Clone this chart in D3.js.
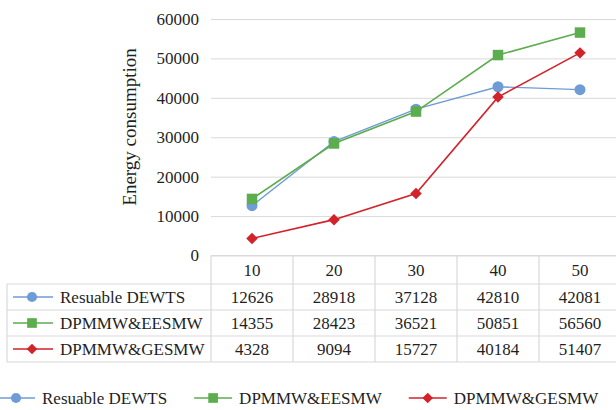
<!DOCTYPE html>
<html>
<head>
<meta charset="utf-8">
<script src="https://cdn.jsdelivr.net/npm/d3@7"></script>
<style>
  html, body { margin: 0; padding: 0; background: #fff; }
  svg { display: block; }
  svg text { font-family: "Liberation Serif", "DejaVu Serif", serif; fill: #1f1f1f; }
</style>
</head>
<body>
<svg id="chart" width="616" height="410"></svg>
<script>
// Chart data
const categories = ["10", "20", "30", "40", "50"];
const seriesNames = ["Resuable DEWTS", "DPMMW&EESMW", "DPMMW&GESMW"];
const reusableDewts = [12626, 28918, 37128, 42810, 42081];
const dpmmwEesmw = [14355, 28423, 36521, 50851, 56560];
const dpmmwGesmw = [4328, 9094, 15727, 40184, 51407];
const yTicks = [0, 10000, 20000, 30000, 40000, 50000, 60000];
const yTitle = "Energy consumption";

const seriesValues = [reusableDewts, dpmmwEesmw, dpmmwGesmw];
const colors = ["#6f9bd6", "#5cad4e", "#d2222a"];
const serifFont = "'Liberation Serif', 'DejaVu Serif', serif";

// marker shapes: circle, square, and a square turned 45 degrees
const markers = [
  { type: d3.symbolCircle, size: 95, rotate: 0 },
  { type: d3.symbolSquare, size: 110, rotate: 0 },
  { type: d3.symbolSquare, size: 66, rotate: 45 }
];

const svg = d3.select("#chart");
const gridColor = "#d9d9d9";

const plotLeft = 211, plotRight = 621, plotTop = 19, plotBottom = 255.5;

const x = d3.scaleBand().domain(categories).range([plotLeft, plotRight]);
const y = d3.scaleLinear().domain([0, 60000]).range([plotBottom, plotTop]);

// Y axis with horizontal gridlines
const yAxis = svg.append("g")
  .attr("transform", `translate(${plotLeft},0)`)
  .call(d3.axisLeft(y).tickValues(yTicks).tickFormat(d3.format("d"))
    .tickSize(-(plotRight - plotLeft)).tickPadding(12))
  .attr("font-family", serifFont)
  .attr("font-size", 17);
yAxis.select(".domain").remove();
yAxis.selectAll(".tick line").attr("stroke", gridColor).attr("stroke-width", 1);
yAxis.selectAll(".tick text").attr("fill", "#1f1f1f");

// Y axis title
svg.append("text")
  .attr("transform", "translate(136,127) rotate(-90)")
  .attr("text-anchor", "middle")
  .attr("font-size", 19)
  .text(yTitle);

// Series lines and markers
const cx = c => x(c) + x.bandwidth() / 2;
const line = d3.line()
  .x((d, i) => cx(categories[i]))
  .y(d => y(d));

function markerPath(s, scale) {
  return d3.symbol().type(markers[s].type).size(markers[s].size * scale)();
}

seriesValues.forEach((vals, s) => {
  const g = svg.append("g");
  g.append("path")
    .datum(vals)
    .attr("d", line)
    .attr("fill", "none")
    .attr("stroke", colors[s])
    .attr("stroke-width", s === 0 ? 1.4 : 1.6);
  g.selectAll("path.mk")
    .data(vals)
    .join("path")
    .attr("class", "mk")
    .attr("d", markerPath(s, 1))
    .attr("transform", (d, i) => `translate(${cx(categories[i])},${y(d)}) rotate(${markers[s].rotate})`)
    .attr("fill", colors[s]);
});

// Data table below the plot
const tableLeft = 7;
const headerTop = 255.5, headerBottom = 284;
const rowH = 26;
const rowTops = seriesNames.map((_, i) => headerBottom + i * rowH);
const tableBottom = headerBottom + seriesNames.length * rowH;

const tbl = svg.append("g").attr("stroke", gridColor).attr("stroke-width", 1.2);
tbl.append("line").attr("x1", plotLeft).attr("x2", plotRight).attr("y1", headerTop).attr("y2", headerTop);
[headerBottom, ...rowTops.slice(1), tableBottom].forEach(yy => {
  tbl.append("line").attr("x1", tableLeft).attr("x2", plotRight).attr("y1", yy).attr("y2", yy);
});
tbl.append("line").attr("x1", tableLeft).attr("x2", tableLeft).attr("y1", headerBottom).attr("y2", tableBottom);
categories.forEach(c => {
  tbl.append("line").attr("x1", x(c)).attr("x2", x(c)).attr("y1", headerTop).attr("y2", tableBottom);
});

// header labels
svg.selectAll("text.hdr")
  .data(categories)
  .join("text")
  .attr("class", "hdr")
  .attr("x", d => cx(d))
  .attr("y", (headerTop + headerBottom) / 2)
  .attr("dy", "0.35em")
  .attr("text-anchor", "middle")
  .attr("font-size", 17)
  .text(d => d);

function legendKey(g, s, mx, my, x1, x2) {
  g.append("line").attr("x1", x1).attr("x2", x2).attr("y1", my).attr("y2", my)
    .attr("stroke", colors[s]).attr("stroke-width", 1.6);
  g.append("path")
    .attr("d", markerPath(s, 0.85))
    .attr("transform", `translate(${mx},${my}) rotate(${markers[s].rotate})`)
    .attr("fill", colors[s]);
}

seriesNames.forEach((name, s) => {
  const my = rowTops[s] + rowH / 2;
  const g = svg.append("g");
  legendKey(g, s, 32, my, 13, 53);
  g.append("text").attr("x", 60).attr("y", my).attr("dy", "0.35em")
    .attr("font-size", 17).text(name);
  g.selectAll("text.val")
    .data(seriesValues[s])
    .join("text")
    .attr("class", "val")
    .attr("x", (d, i) => cx(categories[i]))
    .attr("y", my)
    .attr("dy", "0.35em")
    .attr("text-anchor", "middle")
    .attr("font-size", 17)
    .text(d => d);
});

// Bottom legend
const legendY = 398;
let lx = -3;
seriesNames.forEach((name, s) => {
  const g = svg.append("g");
  legendKey(g, s, lx + 19, legendY, lx, lx + 38);
  const t = g.append("text").attr("x", lx + 45).attr("y", legendY).attr("dy", "0.35em")
    .attr("font-size", 17).text(name);
  lx = lx + 45 + t.node().getComputedTextLength() + 27;
});
</script>
</body>
</html>
